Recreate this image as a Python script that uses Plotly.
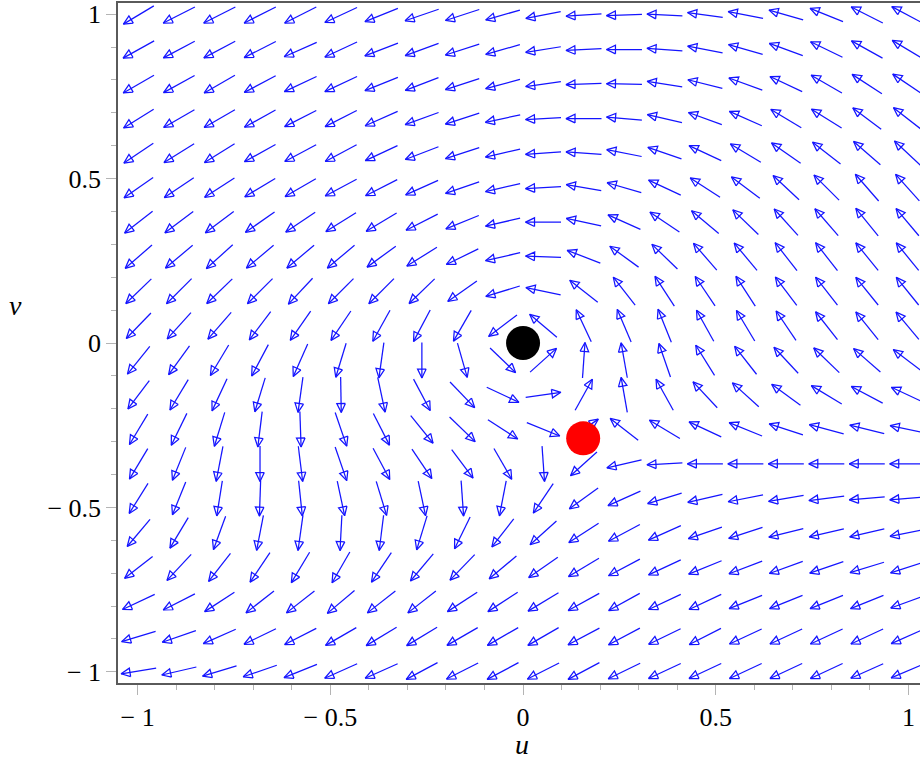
import math
import plotly.graph_objects as go

# ---- data ----
# arrow grid (cell centres), columns left->right, rows top->bottom
u_grid = [-0.9975, -0.8925, -0.7875, -0.6825, -0.5775, -0.4725, -0.3675, -0.2625, -0.1575, -0.0525,
          0.0525, 0.1575, 0.2625, 0.3675, 0.4725, 0.5775, 0.6825, 0.7875, 0.8925, 0.9975]
v_grid = [0.9975, 0.8925, 0.7875, 0.6825, 0.5775, 0.4725, 0.3675, 0.2625, 0.1575, 0.0525,
          -0.0525, -0.1575, -0.2625, -0.3675, -0.4725, -0.5775, -0.6825, -0.7875, -0.8925, -0.9975]

# arrow direction on screen, degrees (0 = right, 90 = up, 180 = left), one row per v_grid value
angle_rows = [
    [211, 207, 207, 207, 207, 205, 202, 199, 198, 196, 191, 184, 182, 177, 172, 169, 164, 158, 153, 152],
    [209, 208, 208, 207, 204, 205, 201, 200, 198, 196, 189, 183, 180, 176, 169, 164, 160, 154, 151, 149],
    [210, 209, 210, 208, 205, 205, 202, 201, 198, 195, 188, 182, 179, 171, 166, 160, 155, 150, 147, 146],
    [212, 210, 210, 209, 207, 207, 204, 200, 198, 192, 183, 180, 175, 167, 160, 156, 149, 148, 143, 142],
    [214, 212, 212, 209, 208, 208, 205, 201, 198, 193, 184, 176, 169, 161, 155, 149, 145, 142, 139, 137],
    [215, 214, 213, 211, 210, 208, 207, 204, 199, 193, 183, 170, 164, 155, 147, 143, 137, 135, 131, 132],
    [218, 217, 217, 215, 214, 212, 211, 207, 202, 193, 180, 168, 156, 146, 140, 136, 132, 131, 129, 130],
    [221, 220, 222, 220, 220, 220, 216, 212, 206, 193, 178, 159, 144, 136, 131, 130, 128, 128, 129, 129],
    [224, 225, 224, 225, 227, 225, 225, 224, 215, 197, 168, 142, 128, 123, 124, 123, 127, 128, 129, 129],
    [226, 228, 229, 233, 235, 236, 241, 242, 240, 217, 140, 115, 113, 112, 119, 121, 124, 128, 129, 130],
    [231, 234, 239, 242, 246, 253, 262, 270, 286, 316, 42, 86, 100, 109, 122, 128, 133, 136, 139, 143],
    [233, 239, 245, 253, 262, 271, 282, 298, 314, 335, 8, 61, 100, 119, 133, 138, 144, 149, 152, 155],
    [239, 244, 253, 263, 272, 289, 297, 309, 316, 327, 338, 35, 142, 149, 155, 158, 162, 165, 166, 168],
    [239, 248, 259, 270, 277, 289, 298, 304, 307, 300, 274, 222, 193, 183, 180, 180, 180, 180, 180, 180],
    [238, 248, 261, 268, 276, 282, 287, 282, 274, 259, 236, 216, 204, 197, 193, 191, 190, 187, 185, 185],
    [230, 239, 250, 259, 262, 267, 263, 253, 244, 232, 222, 213, 208, 204, 199, 198, 194, 193, 193, 191],
    [218, 227, 232, 236, 239, 240, 236, 230, 226, 220, 215, 211, 208, 205, 202, 201, 200, 199, 197, 198],
    [205, 207, 213, 218, 218, 220, 218, 218, 213, 213, 211, 209, 209, 205, 205, 202, 202, 202, 202, 200],
    [197, 199, 204, 206, 207, 210, 211, 211, 210, 210, 210, 208, 208, 206, 207, 205, 205, 205, 205, 204],
    [189, 193, 197, 199, 202, 204, 204, 208, 207, 208, 207, 208, 206, 205, 205, 205, 205, 205, 204, 203],
]

# equilibrium points
point_u = [0.0, 0.156]
point_v = [0.0, -0.29]
point_colors = ["black", "red"]

tick_vals = [-1, -0.5, 0, 0.5, 1]
tick_text = ["\u2212 1", "\u2212 0.5", "0", "0.5", "1"]

# ---- layout constants ----
W, H = 920, 763
ML, MR, MT, MB = 118, 0, 3, 80
X_RANGE = [-1.051, 1.030]
Y_RANGE = [-1.034, 1.034]
ARROW_PX = 35.5
HEAD_LEN = 9.0
HEAD_HALF = 4.3

sx = (W - ML - MR) / (X_RANGE[1] - X_RANGE[0])   # px per data unit (x)
sy = (H - MT - MB) / (Y_RANGE[1] - Y_RANGE[0])   # px per data unit (y)

xs, ys = [], []
for i, v in enumerate(v_grid):
    for j, u in enumerate(u_grid):
        t = math.radians(angle_rows[i][j])
        c, s = math.cos(t), math.sin(t)
        tail = (u - 0.5 * ARROW_PX * c / sx, v - 0.5 * ARROW_PX * s / sy)
        tip = (u + 0.5 * ARROW_PX * c / sx, v + 0.5 * ARROW_PX * s / sy)
        bc = (tip[0] - HEAD_LEN * c / sx, tip[1] - HEAD_LEN * s / sy)
        b1 = (bc[0] - HEAD_HALF * s / sx, bc[1] + HEAD_HALF * c / sy)
        b2 = (bc[0] + HEAD_HALF * s / sx, bc[1] - HEAD_HALF * c / sy)
        xs += [tail[0], tip[0], None, b1[0], tip[0], b2[0], b1[0], None]
        ys += [tail[1], tip[1], None, b1[1], tip[1], b2[1], b1[1], None]

fig = go.Figure()
fig.add_trace(go.Scatter(x=xs, y=ys, mode="lines",
                         line=dict(color="rgb(20,20,255)", width=1.25),
                         hoverinfo="skip", showlegend=False, cliponaxis=True))
fig.add_trace(go.Scatter(x=point_u, y=point_v, mode="markers",
                         marker=dict(size=34, color=point_colors, line=dict(width=0)),
                         showlegend=False))

axis_common = dict(
    showgrid=False, zeroline=False, showline=True, linecolor="#5a5a5a", linewidth=1.5,
    ticks="outside", ticklen=10, tickcolor="#b4b4b4", tickwidth=1,
    tickvals=tick_vals, ticktext=tick_text, automargin=False,
    tickfont=dict(family="Liberation Serif", size=26, color="black"),
    minor=dict(ticks="outside", ticklen=5, tickcolor="#b4b4b4", dtick=0.1, tick0=0, showgrid=False),
)
fig.update_xaxes(range=X_RANGE, mirror=True, **axis_common)
fig.update_yaxes(range=Y_RANGE, mirror=False, **axis_common)

fig.add_annotation(text="<i>u</i>", xref="paper", yref="paper",
                   x=(522 - ML) / (W - ML - MR), y=-(745 - (H - MB)) / (H - MT - MB),
                   xanchor="center", yanchor="middle",
                   showarrow=False, font=dict(family="Liberation Serif", size=28, color="black"))
fig.add_annotation(text="<i>v</i>", xref="paper", yref="paper",
                   x=(15 - ML) / (W - ML - MR), y=((H - MB) - 305) / (H - MT - MB),
                   xanchor="center", yanchor="middle",
                   showarrow=False, font=dict(family="Liberation Serif", size=28, color="black"))

fig.update_layout(width=W, height=H, margin=dict(l=ML, r=MR, t=MT, b=MB, autoexpand=False),
                  plot_bgcolor="white", paper_bgcolor="white")
fig.write_html("out.html", config={"displayModeBar": False},
               post_script="document.body.style.margin='0';document.body.style.padding='0';")
